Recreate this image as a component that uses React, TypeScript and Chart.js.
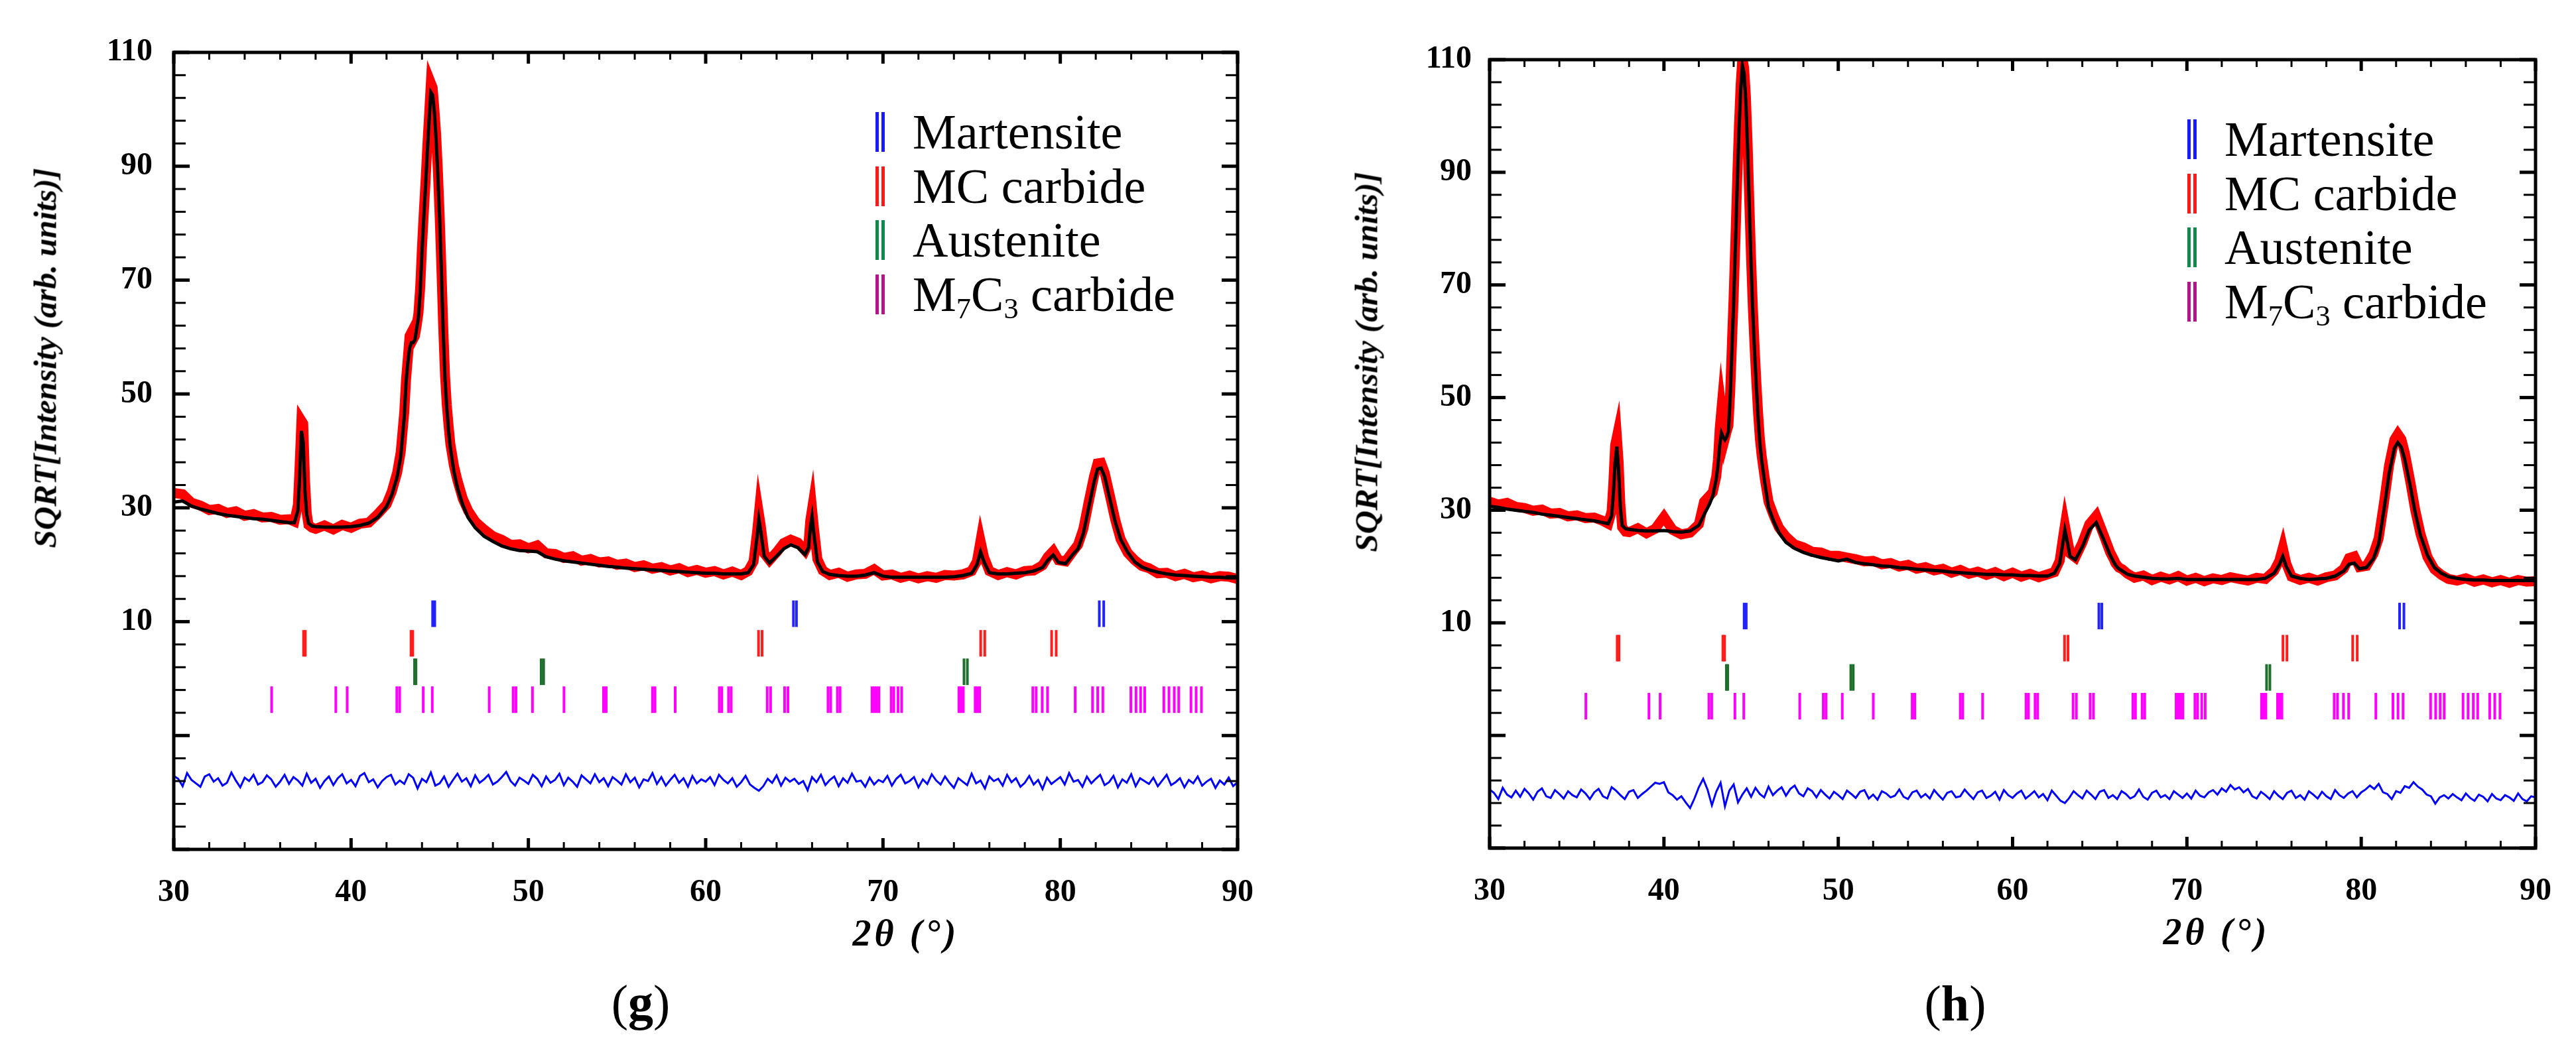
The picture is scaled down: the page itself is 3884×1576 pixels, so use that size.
import React, { useEffect, useRef } from 'react';
import { Chart, registerables } from 'chart.js';

Chart.register(...registerables);

// 2theta positions of the profile samples (denser over the sharp peaks)
const twoTheta = [
  30, 30.5, 31, 31.5, 32, 32.5, 33, 33.5, 34, 34.5, 35, 35.5, 36, 36.5,
  36.8, 37, 37.1, 37.2, 37.3, 37.4, 37.5, 37.6, 37.8,
  38, 38.5, 39, 39.5, 40, 40.5, 41, 41.5, 42, 42.3, 42.6, 42.8,
  43, 43.1, 43.2, 43.3, 43.4, 43.5, 43.6, 43.7, 43.8, 43.9, 44, 44.1, 44.2, 44.3, 44.4, 44.5, 44.6, 44.7, 44.8, 44.9, 45, 45.1, 45.2, 45.3, 45.4, 45.5, 45.6, 45.8,
  46, 46.3, 46.6, 47, 47.5, 48, 48.5, 49, 49.5, 50, 50.5, 51, 51.5, 52, 52.5, 53, 53.5, 54, 54.5, 55, 55.5, 56, 56.5, 57, 57.5, 58, 58.5, 59, 59.5, 60, 60.5, 61, 61.5, 62, 62.4,
  62.7, 62.9, 63, 63.1, 63.3, 63.6, 64, 64.4, 64.8, 65.2, 65.6, 65.8, 65.9, 66, 66.1, 66.3, 66.6,
  67, 67.5, 68, 68.5, 69, 69.5, 70, 70.5, 71, 71.5, 72, 72.5, 73, 73.5, 74, 74.5, 75, 75.3,
  75.5, 75.7, 76, 76.5, 77, 77.5, 78, 78.5, 79, 79.3, 79.6, 79.9, 80.3, 80.7, 81, 81.3, 81.6, 81.9, 82.1, 82.3, 82.5, 82.8, 83.1, 83.4, 83.8, 84.2, 84.6, 85, 85.5, 86, 86.5, 87, 87.5, 88, 88.5, 89, 89.5, 90,
];

// panel (g)
const gObserved = [
  32.6, 32.4, 30.9, 30.4, 29.6, 29.8, 29.1, 29.4, 28.6, 28.9, 28.3, 28.4, 27.9, 28.0,
  27.6, 30.5, 37.5, 45.3, 44.8, 35.0, 29.0, 27.0, 26.5,
  26.3, 26.9, 26.2, 27.0, 26.5, 27.2, 27.4, 28.9, 30.6, 32.9, 36.2, 39.8,
  46.8, 52.5, 56.3, 60.2, 60.8, 59.6, 60.2, 62.0, 64.2, 68.8, 75.8, 81.8, 87.3, 93.5, 99.0, 104.6, 103.8, 100.0, 95.5, 88.9, 81.0, 71.6, 61.5, 53.2, 48.0, 44.4, 41.2, 37.4,
  34.8, 31.6, 29.5, 27.6, 26.2, 25.0, 24.4, 23.5, 23.6, 22.9, 23.4, 22.0, 21.9, 21.2, 21.5, 20.7, 21.0, 20.4, 20.6, 20.0, 20.2, 19.6, 19.9, 19.3, 19.6, 19.0, 19.4, 18.7, 19.1, 18.6, 18.9, 18.3, 18.8, 18.2, 18.9,
  20.6, 25.8, 29.0, 27.0, 22.0, 20.8, 22.2, 23.8, 24.4, 23.9, 22.5, 23.8, 27.8, 29.8, 26.6, 21.0, 19.0,
  18.2, 18.6, 17.9, 18.3, 18.4, 19.2, 18.1, 18.3, 17.7, 18.1, 17.6, 18.0, 17.7, 18.2, 18.1, 18.3, 18.9, 20.6,
  24.2, 21.3, 18.9, 18.2, 18.7, 18.3, 18.9, 19.0, 19.9, 21.4, 22.4, 20.8, 20.6, 22.3, 23.5, 26.3, 31.0, 35.5, 37.8, 37.9, 36.2, 32.1, 27.9, 24.5, 22.1, 20.8, 19.8, 19.4, 18.5, 18.6, 18.0, 18.4, 17.8, 18.1, 17.6, 18.0, 17.9, 17.5,
];
const gCalculated = [
  31.0, 31.2, 30.3, 29.8, 29.4, 29.0, 28.7, 28.5, 28.3, 28.1, 28.0, 27.8, 27.6, 27.4,
  27.4, 29.5, 35.5, 43.5, 41.5, 33.0, 28.8, 27.3, 26.8,
  26.7, 26.6, 26.6, 26.6, 26.7, 26.9, 27.3, 28.3, 30.2, 32.3, 35.5, 39.0,
  46.0, 52.0, 55.5, 58.0, 59.0, 59.0, 59.5, 61.5, 63.5, 68.0, 75.0, 81.0, 86.5, 92.5, 98.0, 103.0, 102.5, 99.5, 94.5, 88.0, 80.5, 71.0, 60.5, 52.5, 47.5, 43.5, 40.5, 36.4,
  33.5, 30.5, 28.3, 26.5, 25.0, 24.1, 23.3, 22.8, 22.5, 22.4, 22.3, 21.4, 21.0, 20.7, 20.5, 20.3, 20.1, 19.9, 19.7, 19.6, 19.4, 19.3, 19.2, 19.1, 19.0, 18.9, 18.8, 18.7, 18.6, 18.5, 18.5, 18.4, 18.4, 18.4, 18.6,
  20.0, 25.0, 28.0, 26.0, 21.5, 20.3, 21.5, 22.8, 23.5, 23.0, 21.8, 23.0, 26.5, 28.5, 25.5, 20.5, 18.8,
  18.3, 18.1, 18.0, 18.0, 18.2, 18.6, 18.0, 17.8, 17.8, 17.8, 17.8, 17.8, 17.8, 17.8, 17.9, 18.1, 18.5, 20.0,
  22.3, 20.5, 18.6, 18.4, 18.4, 18.5, 18.6, 18.9, 19.5, 20.8, 21.7, 20.4, 20.2, 21.8, 22.8, 25.5, 30.0, 34.5, 36.8, 37.0, 35.5, 31.5, 27.5, 24.5, 22.2, 20.5, 19.6, 19.1, 18.7, 18.4, 18.2, 18.1, 18.0, 17.9, 17.8, 17.8, 17.7, 17.7,
];
// Yobs - Ycalc (offset), every 0.25 deg from 30 to 90
const gDifference = [
  -17.1, -17.6, -18.9, -16.6, -17.8, -18.4, -19.0, -17.2, -16.8, -18.1, -17.5, -18.8, -18.3, -16.5, -17.9, -19.1, -17.4, -18.0, -16.9, -18.6,
  -18.2, -17.0, -17.7, -19.0, -18.1, -16.9, -18.5, -17.3, -17.9, -18.8, -16.7, -18.3, -17.6, -19.2, -18.0, -17.2, -18.7, -17.5, -16.8, -18.4,
  -17.8, -18.9, -17.1, -16.6, -18.2, -17.7, -19.1, -18.0, -17.3, -16.9, -18.6, -17.9, -18.5, -16.8, -17.4, -19.3, -17.6, -18.2, -16.5, -18.8,
  -18.4, -17.2, -19.0, -17.8, -16.7, -18.1, -17.5, -18.9, -17.0, -18.3, -17.7, -16.9, -18.6, -18.1, -17.3, -16.4, -18.0, -18.8, -17.4, -17.9,
  -18.5, -16.9, -17.6, -18.9, -17.2, -18.3, -17.8, -16.7, -18.7, -17.4, -18.1, -19.0, -17.0, -17.7, -18.4, -16.8, -18.2, -17.5, -18.9, -17.3,
  -17.9, -18.6, -16.8, -18.2, -17.4, -19.1, -17.7, -18.0, -16.6, -18.5, -17.3, -18.8, -17.8, -16.9, -18.3, -17.5, -19.0, -17.1, -18.4, -17.7,
  -18.1, -17.3, -18.7, -16.9, -17.8, -18.4, -17.5, -19.0, -18.2, -17.1, -18.6, -19.2, -19.7, -18.9, -17.6, -18.3, -17.0, -18.8, -17.4, -18.1,
  -17.6, -18.5, -18.0, -19.6, -17.3, -18.2, -16.9, -18.7, -17.8, -17.2, -18.9, -17.5, -18.3, -16.7, -18.1, -17.9, -19.0, -17.4, -18.6, -17.8,
  -18.2, -17.1, -18.8, -17.6, -16.9, -18.4, -18.0, -17.3, -19.1, -17.7, -18.5, -16.8, -17.9, -18.6, -17.2, -18.3, -19.2, -17.5, -18.1, -18.7,
  -16.7, -18.4, -17.9, -19.3, -17.2, -18.0, -17.6, -18.8, -16.9, -18.2, -17.5, -19.0, -18.3, -17.1, -18.6, -17.8, -19.4, -17.4, -18.5, -17.9,
  -17.3, -18.6, -16.6, -18.1, -17.8, -19.0, -17.2, -18.4, -17.6, -16.9, -18.7, -18.2, -17.1, -19.1, -17.7, -18.3, -16.8, -18.9, -17.5, -18.0,
  -18.5, -17.4, -18.9, -17.9, -16.9, -18.7, -18.2, -17.5, -19.1, -17.8, -18.4, -17.2, -18.8, -18.1, -17.6, -19.2, -17.9, -18.6, -17.4, -18.9,
  -18.2,
];

// panel (h)
const hObserved = [
  31.5, 31.0, 31.3, 30.6, 30.4, 29.9, 30.1, 29.4, 29.5, 28.9, 29.1, 28.6, 28.7, 28.1,
  27.6, 29.8, 35.0, 41.5, 43.0, 38.5, 31.0, 27.0, 26.2,
  26.1, 26.8, 25.9, 26.7, 28.8, 26.5, 25.7, 26.0, 27.5, 31.5, 32.5, 33.2,
  36.0, 39.0, 44.5, 48.0, 45.5, 42.8, 44.0, 45.0, 51.0, 59.5, 68.0, 78.0, 88.5, 98.0, 105.5, 110.3, 108.5, 103.5, 95.0, 84.5, 74.5, 66.0, 59.0, 52.8, 47.3, 42.8, 39.8, 35.3,
  31.5, 29.0, 26.9, 25.3, 23.9, 23.4, 22.6, 22.5, 21.9, 21.9, 21.6, 21.3, 20.9, 21.0, 20.4, 20.6, 20.0, 20.3, 19.6, 19.9, 19.3, 19.6, 18.9, 19.4, 18.7, 19.1, 18.5, 19.0, 18.3, 18.9, 18.2, 18.7, 18.1, 18.6, 19.0,
  21.0, 25.3, 27.3, 25.6, 22.3, 21.6, 24.2, 27.5, 29.0, 25.8, 22.5, 21.3, 20.6, 20.2, 19.8, 19.5, 18.7,
  18.0, 18.4, 17.6, 18.2, 17.7, 18.3, 17.5, 18.0, 17.4, 17.9, 17.6, 18.1, 17.8, 17.5, 18.0, 17.8, 19.2, 21.0,
  23.3, 20.5, 18.2, 17.6, 18.0, 17.5, 18.1, 18.4, 19.6, 21.5, 21.8, 19.9, 20.1, 22.2, 25.0, 31.2, 38.0, 42.5, 43.5, 42.6, 40.2, 35.3, 30.0, 25.8, 21.7, 19.5, 18.5, 17.8, 17.5, 17.9, 17.3, 17.7, 17.2, 17.6, 17.1, 17.6, 17.3, 17.4,
];
const hCalculated = [
  30.7, 30.5, 30.2, 30.0, 29.8, 29.6, 29.3, 29.1, 28.9, 28.7, 28.5, 28.3, 28.1, 27.8,
  27.6, 29.0, 33.0, 38.5, 41.3, 37.0, 30.5, 27.3, 26.7,
  26.6, 26.4, 26.3, 26.3, 26.4, 26.2, 26.1, 26.3, 27.3, 29.2, 31.0, 32.5,
  35.5, 38.0, 41.5, 43.7, 43.0, 42.5, 43.0, 44.0, 50.0, 58.5, 67.0, 77.0, 87.5, 97.0, 104.5, 109.0, 107.5, 102.5, 94.0, 83.5, 73.5, 65.0, 58.0, 52.0, 46.5, 42.0, 39.0, 34.5,
  30.5, 28.0, 26.0, 24.3, 23.2, 22.5, 22.0, 21.6, 21.3, 21.0, 21.3, 20.7, 20.5, 20.3, 20.1, 20.0, 19.8, 19.7, 19.5, 19.4, 19.3, 19.2, 19.0, 18.9, 18.8, 18.7, 18.6, 18.6, 18.5, 18.5, 18.4, 18.4, 18.3, 18.3, 18.8,
  20.5, 24.5, 26.5, 25.0, 21.8, 21.2, 23.5, 26.5, 27.8, 25.0, 22.0, 20.8, 20.3, 19.9, 19.6, 19.2, 18.6,
  18.3, 18.1, 17.9, 17.8, 17.8, 17.9, 17.7, 17.7, 17.7, 17.7, 17.7, 17.7, 17.7, 17.7, 17.7, 17.9, 18.8, 20.3,
  21.8, 20.0, 18.3, 17.9, 17.7, 17.8, 17.9, 18.3, 19.2, 20.4, 20.6, 19.6, 19.8, 21.4, 24.0, 30.0, 36.5, 41.0, 42.0, 41.2, 39.0, 34.5, 29.5, 25.5, 22.0, 19.8, 18.8, 18.2, 17.9, 17.7, 17.6, 17.6, 17.5, 17.5, 17.5, 17.5, 17.5, 17.5,
];
const hDifference = [
  -19.6, -20.2, -21.3, -19.3, -20.5, -21.0, -19.8, -20.9, -19.5, -20.3, -21.4, -20.0, -19.4, -20.8, -21.1, -19.7, -20.4, -21.2, -19.9, -20.6,
  -21.0, -19.6, -20.3, -21.3, -20.1, -19.5, -20.8, -21.2, -19.2, -19.8, -20.6, -21.3, -20.0, -19.7, -21.1, -20.4, -19.8, -19.1, -18.4, -18.6,
  -18.3, -20.1, -20.6, -21.4, -20.8, -21.9, -22.9, -21.2, -19.2, -17.7, -19.6, -22.4, -20.0, -18.4, -22.6, -19.8, -18.7, -21.9, -20.5, -19.4,
  -20.9, -19.3, -20.4, -21.0, -19.1, -20.6, -19.8, -19.2, -20.7, -19.5, -18.9, -20.3, -20.8, -19.4, -19.9, -21.0, -19.7, -20.5, -21.2, -20.0,
  -20.6, -21.3, -19.8, -20.4, -21.1, -20.0, -19.7, -21.2, -20.5, -21.4, -19.9, -20.3, -21.0, -20.7, -19.6, -20.9, -21.3, -20.1, -19.8, -21.0,
  -20.4, -21.2, -19.7, -20.6, -21.4, -20.2, -19.9, -21.0, -20.8, -19.6, -20.5, -21.3, -20.1, -19.8, -21.1, -20.7, -20.0, -21.4, -19.7, -20.6,
  -21.1, -20.3, -19.8, -21.2, -20.6, -19.9, -21.0, -20.4, -21.5, -19.8, -20.7, -21.6, -22.0, -21.1, -19.9, -20.6, -21.2, -19.8, -20.5, -21.3,
  -20.0, -19.7, -21.1, -20.6, -21.3, -19.9, -20.4, -21.2, -20.8, -19.6, -20.9, -21.4, -20.2, -19.8, -21.0, -20.6, -21.3, -19.9, -20.5, -21.1,
  -20.3, -21.2, -19.8, -20.7, -21.0, -20.1, -19.7, -20.5, -19.4, -20.0, -18.8, -19.6, -19.2, -20.1, -19.5, -20.8, -21.2, -20.0, -20.6, -21.3,
  -19.9, -20.7, -21.3, -20.2, -19.8, -21.1, -20.6, -21.4, -19.9, -20.5, -21.2, -20.0, -20.8, -21.3, -19.7, -20.6, -21.1, -20.3, -19.9, -21.0,
  -20.1, -19.6, -18.9, -19.5, -18.6, -20.1, -20.4, -21.3, -19.9, -20.2, -19.0, -19.3, -18.3, -19.1, -19.6, -20.5, -20.8, -22.1, -21.0, -20.6,
  -21.2, -20.4, -21.0, -21.5, -20.3, -21.1, -21.6, -20.5, -20.9, -21.7, -20.4, -21.2, -21.5, -20.6, -21.0, -21.6, -20.3, -21.3, -21.7, -20.8,
  -21.0,
];
const diffTheta = gDifference.map((_, i) => 30 + i * 0.25);

// Bragg reflection positions (2theta) for each phase
const martensite = [44.6, 44.72, 64.95, 65.12, 82.2, 82.45];
const mcCarbide = [37.32, 37.42, 43.38, 43.48, 62.98, 63.18, 75.51, 75.74, 79.51, 79.77];
const austenite = [43.58, 43.66, 50.72, 50.86, 74.57, 74.76];
const m7c3 = [
  35.52, 39.14, 39.78, 42.58, 42.74, 44.07, 44.58, 47.79, 49.14, 49.3, 50.23, 52.01, 54.24, 54.39,
  57.0, 57.14, 58.28, 60.77, 60.91, 61.29, 61.44, 63.47, 63.66, 64.45, 64.64, 66.9, 67.05, 67.43,
  67.58, 69.38, 69.5, 69.64, 69.77, 70.46, 70.61, 70.85, 71.05, 74.28, 74.4, 74.53, 75.2, 75.32,
  75.45, 78.45, 78.64, 78.98, 79.28, 80.84, 81.82, 82.11, 82.4, 83.98, 84.27, 84.53, 84.76, 85.84,
  86.13, 86.43, 86.68, 87.37, 87.66, 87.96,
];

const SERIF = "'Liberation Serif', 'Times New Roman', serif";

const framePlugin = {
  id: 'frame',
  afterDatasetsDraw(chart: any) {
    const { ctx, chartArea, scales } = chart;
    const { left, right, top, bottom } = chartArea;
    const xs = scales.x;
    const ys = scales.y;
    ctx.save();
    ctx.strokeStyle = '#000';
    const seg = (x1: number, y1: number, x2: number, y2: number) => {
      ctx.beginPath();
      ctx.moveTo(x1, y1);
      ctx.lineTo(x2, y2);
      ctx.stroke();
    };
    for (let v = 30; v <= 90; v += 2) {
      const px = xs.getPixelForValue(v);
      const major = v % 10 === 0;
      ctx.lineWidth = major ? 5 : 3;
      const len = major ? 17 : 11;
      seg(px, bottom, px, bottom - len);
      seg(px, top, px, top + len);
    }
    for (let v = -30; v <= 110; v += 4) {
      const py = ys.getPixelForValue(v);
      const major = (v + 30) % 20 === 0;
      ctx.lineWidth = major ? 5 : 3;
      const len = major ? 24 : 18;
      seg(left, py, left + len, py);
      seg(right, py, right - len, py);
    }
    ctx.lineWidth = 5;
    ctx.strokeRect(left, top, right - left, bottom - top);
    ctx.restore();
  },
};

type PanelProps = {
  left: number;
  width: number;
  area: { left: number; top: number; right: number; bottom: number };
  observed: number[];
  calculated: number[];
  difference: number[];
  rows: number[];
  labelPad: number;
};

function XrdPanel({ left, width, area, observed, calculated, difference, rows, labelPad }: PanelProps) {
  const canvasRef = useRef<HTMLCanvasElement>(null);
  const height = 1576;

  useEffect(() => {
    const phase = (positions: number[], row: number, color: string) => ({
      data: positions.map((x) => ({ x, y: row })),
      showLine: false,
      pointStyle: 'line',
      rotation: 90,
      pointRadius: 20,
      pointBorderWidth: 4,
      pointBorderColor: color,
      borderColor: color,
      backgroundColor: color,
    });

    const chart = new Chart(canvasRef.current as HTMLCanvasElement, {
      type: 'line',
      data: {
        datasets: [
          {
            data: twoTheta.map((x, i) => ({ x, y: calculated[i] })),
            borderColor: '#000000',
            borderWidth: 5,
            pointRadius: 0,
          },
          {
            data: twoTheta.map((x, i) => ({ x, y: observed[i] })),
            borderColor: '#ff0000',
            borderWidth: 15,
            pointRadius: 0,
          },
          {
            data: diffTheta.map((x, i) => ({ x, y: difference[i] })),
            borderColor: '#0000ff',
            borderWidth: 3,
            pointRadius: 0,
          },
          phase(martensite, rows[0], '#2323ff'),
          phase(mcCarbide, rows[1], '#ff1e1e'),
          phase(austenite, rows[2], '#1f6f2c'),
          phase(m7c3, rows[3], '#ff00ff'),
        ] as any,
      },
      options: {
        animation: false,
        responsive: false,
        devicePixelRatio: 1,
        events: [],
        layout: {
          padding: { left: 0, top: area.top, right: width - area.right, bottom: 0 },
        },
        plugins: { legend: { display: false }, tooltip: { enabled: false } },
        scales: {
          x: {
            type: 'linear',
            min: 30,
            max: 90,
            grid: { display: false, drawTicks: false },
            border: { display: false },
            ticks: {
              stepSize: 10,
              padding: 37,
              color: '#000',
              font: { family: SERIF, size: 48, weight: 'bold' },
            },
            afterFit: (scale: any) => {
              scale.height = height - area.bottom;
            },
          },
          y: {
            type: 'linear',
            min: -30,
            max: 110,
            grid: { display: false, drawTicks: false },
            border: { display: false },
            ticks: {
              stepSize: 20,
              padding: labelPad,
              color: '#000',
              font: { family: SERIF, size: 48, weight: 'bold' },
              callback: (v: any) => (Number(v) >= 10 ? String(v) : ''),
            },
            afterFit: (scale: any) => {
              scale.width = area.left;
            },
          },
        },
      } as any,
      plugins: [framePlugin],
    });

    return () => chart.destroy();
  }, []);

  return (
    <canvas
      ref={canvasRef}
      width={width}
      height={height}
      style={{ position: 'absolute', left, top: 0, width, height }}
    />
  );
}

const subStyle = { fontSize: '0.6em', verticalAlign: '-0.25em' };

const legendItems = [
  { color: '#1a1aff', label: <>Martensite</> },
  { color: '#ff1a1a', label: <>MC carbide</> },
  { color: '#0f8a4a', label: <>Austenite</> },
  {
    color: '#b5138c',
    label: (
      <>
        M<sub style={subStyle}>7</sub>C<sub style={subStyle}>3</sub> carbide
      </>
    ),
  },
];

function Legend({ symbolX, textX, firstY }: { symbolX: number; textX: number; firstY: number }) {
  return (
    <>
      {legendItems.map((item, i) => {
        const cy = firstY + i * 81.5;
        return (
          <React.Fragment key={i}>
            <div
              style={{
                position: 'absolute',
                left: symbolX - 7,
                top: cy - 31,
                width: 14,
                height: 60,
                display: 'flex',
                justifyContent: 'space-between',
              }}
            >
              <div style={{ width: 5, height: '100%', background: item.color }} />
              <div style={{ width: 5, height: '100%', background: item.color }} />
            </div>
            <div
              style={{
                position: 'absolute',
                left: textX,
                top: cy - 38,
                fontFamily: SERIF,
                fontSize: 74,
                lineHeight: '74px',
                color: '#000',
                whiteSpace: 'nowrap',
              }}
            >
              {item.label}
            </div>
          </React.Fragment>
        );
      })}
    </>
  );
}

function Text({ x, y, rotate, size, children, style }: any) {
  return (
    <div
      style={{
        position: 'absolute',
        left: x,
        top: y,
        transform: `translate(-50%, -50%)${rotate ? ' rotate(-90deg)' : ''}`,
        fontFamily: SERIF,
        fontSize: size,
        lineHeight: 1,
        whiteSpace: 'nowrap',
        color: '#000',
        ...style,
      }}
    >
      {children}
    </div>
  );
}

const yTitleStyle = { fontWeight: 'bold', fontStyle: 'italic' };
const xTitleStyle = { fontWeight: 'bold', fontStyle: 'italic', letterSpacing: '5px' };

export default function App() {
  return (
    <div
      style={{
        position: 'absolute',
        left: 0,
        top: 0,
        width: 3884,
        height: 1576,
        background: '#fff',
        overflow: 'hidden',
      }}
    >
      <XrdPanel
        left={0}
        width={1940}
        area={{ left: 262, top: 79, right: 1866, bottom: 1281 }}
        observed={gObserved}
        calculated={gCalculated}
        difference={gDifference}
        rows={[11.4, 6.2, 1.2, -3.7]}
        labelPad={32}
      />
      <XrdPanel
        left={1940}
        width={1944}
        area={{ left: 306, top: 90, right: 1899, bottom: 1279 }}
        observed={hObserved}
        calculated={hCalculated}
        difference={hDifference}
        rows={[11.2, 5.5, 0.3, -4.8]}
        labelPad={27}
      />

      <Legend symbolX={1327} textX={1376} firstY={200} />
      <Legend symbolX={3305} textX={3354} firstY={211} />

      <Text x={68} y={540} rotate size={49} style={yTitleStyle}>SQRT[Intensity (arb. units)]</Text>
      <Text x={2060} y={546} rotate size={49} style={yTitleStyle}>SQRT[Intensity (arb. units)]</Text>
      <Text x={1366} y={1407} size={56} style={xTitleStyle}>2θ (°)</Text>
      <Text x={3342} y={1405} size={56} style={xTitleStyle}>2θ (°)</Text>
      <Text x={966} y={1512} size={76}>(<b>g</b>)</Text>
      <Text x={2948} y={1513} size={76}>(<b>h</b>)</Text>
    </div>
  );
}
